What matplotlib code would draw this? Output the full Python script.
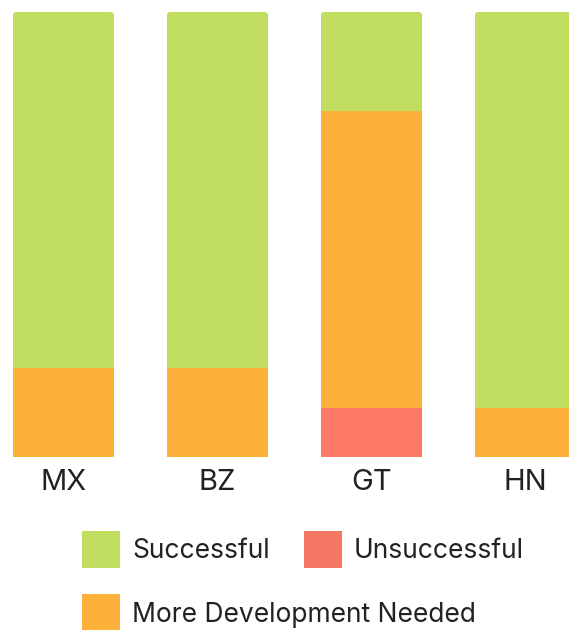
import matplotlib.pyplot as plt
from matplotlib.patches import Rectangle, FancyBboxPatch
import numpy as np

plt.rcParams['font.family'] = ['Inter', 'DejaVu Sans']

# Share of results per country (percent)
countries = ["MX", "BZ", "GT", "HN"]
unsuccessful = np.array([0, 0, 11.1, 0])
more_dev = np.array([20, 20, 66.7, 11.1])
successful = np.array([80, 80, 22.2, 88.9])

green = "#C0DD5F"
orange = "#FDB13B"
red = "#FF7A66"
text_color = "#222222"

W, H = 569, 630
fig = plt.figure(figsize=(W / 100, H / 100), dpi=100)
ax = fig.add_axes([0, (H - 457) / H, 1, 445 / H])

x = np.arange(len(countries))
width = 101 / 154
b1 = ax.bar(x, unsuccessful, width, color=red)
b2 = ax.bar(x, more_dev, width, bottom=unsuccessful, color=orange)
b3 = ax.bar(x, successful, width, bottom=unsuccessful + more_dev, color=green)

ax.set_xlim(-63.5 / 154, (W - 63.5) / 154)
ax.set_ylim(0, 100)

# rounded top corners: clip each column with a rounded box
aspect = (100 / 445) / (1 / 154)
for i in range(len(countries)):
    clip = FancyBboxPatch((x[i] - width / 2, -20), width, 120,
                          boxstyle="round,pad=0,rounding_size=%f" % (3.5 / 154),
                          mutation_aspect=aspect, transform=ax.transData,
                          facecolor="none", edgecolor="none")
    ax.add_patch(clip)
    for bars in (b1, b2, b3):
        bars[i].set_clip_path(clip)

ax.set_xticks(x)
ax.set_xticklabels(countries, fontsize=21, color=text_color)
ax.tick_params(axis="x", length=0, pad=9)
ax.set_yticks([])
for s in ax.spines.values():
    s.set_visible(False)

# Legend laid out like the reference (flow layout)
legend_items = [("Successful", green, 82, 531),
                ("Unsuccessful", "#F47766", 304, 531),
                ("More Development Needed", orange, 82, 594)]
for label, color, px, py in legend_items:
    fig.add_artist(Rectangle((px / W, 1 - (py + 37) / H), 38 / W, 37 / H,
                             transform=fig.transFigure, color=color, lw=0))
    fig.text((px + 50) / W, 1 - (py + 20.5) / H, label, fontsize=19,
             color=text_color, va="center", ha="left")

fig.savefig("out.png", dpi=100)
